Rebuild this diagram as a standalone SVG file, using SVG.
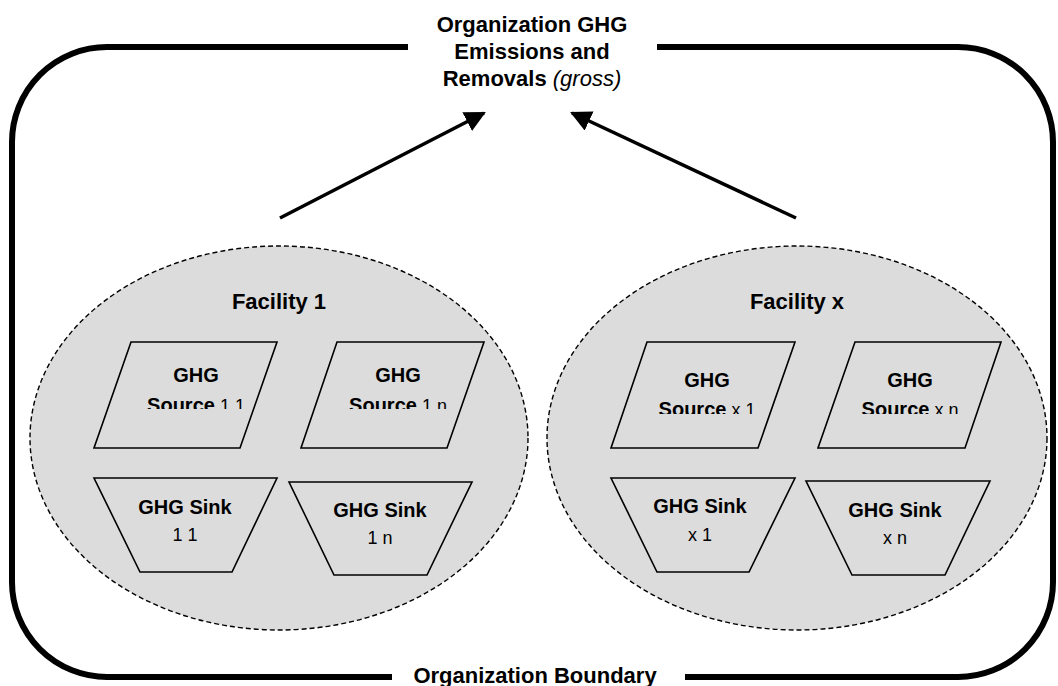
<svg xmlns="http://www.w3.org/2000/svg" width="1058" height="686" viewBox="0 0 1058 686">
<style>
text{font-family:"Liberation Sans",Arial,sans-serif;fill:#000}
.t{font-size:22px;font-weight:bold}
.n{font-size:20px;font-weight:bold}
.r{font-weight:normal;font-size:18px}
.fac{fill:#dcdcdc;stroke:#000;stroke-width:1.4;stroke-dasharray:5 3}
.shp{fill:#dcdcdc;stroke:#000;stroke-width:1.6}
.bnd{fill:none;stroke:#000;stroke-width:6}
.arr{stroke:#000;stroke-width:3.5;fill:none}
</style>
<defs>
<marker id="ah" viewBox="0 0 10 10" refX="9" refY="5" markerWidth="6" markerHeight="6" markerUnits="strokeWidth" orient="auto">
<path d="M0,0 L10,5 L0,10 Z" fill="#000"/>
</marker>
<clipPath id="c1"><rect x="0" y="0" width="540" height="409"/></clipPath>
<clipPath id="c2"><rect x="540" y="0" width="518" height="414"/></clipPath>
</defs>
<g id="boundary">
<path class="bnd" d="M408,47 H107 A95,95 0 0 0 12,142 V582 A95,95 0 0 0 107,677 H392"/>
<path class="bnd" d="M657,47 H958 A95,95 0 0 1 1053,142 V582 A95,95 0 0 1 958,677 H685"/>
<text class="t" x="535" y="683" text-anchor="middle">Organization Boundary</text>
</g>
<g id="title">
<text class="t" x="532" y="32" text-anchor="middle">Organization GHG</text>
<text class="t" x="532" y="59" text-anchor="middle">Emissions and</text>
<text class="t" x="532" y="86" text-anchor="middle">Removals <tspan font-weight="normal" font-style="italic">(gross)</tspan></text>
</g>
<g id="connectors">
<line class="arr" x1="280" y1="218" x2="484" y2="113" marker-end="url(#ah)"/>
<line class="arr" x1="796" y1="218" x2="572" y2="113" marker-end="url(#ah)"/>
</g>
<g id="facility1">
<ellipse class="fac" cx="279" cy="438" rx="249" ry="192"/>
<text class="t" x="279" y="309" text-anchor="middle">Facility 1</text>
</g>
<g id="source11">
<polygon class="shp" points="131,342 277,342 240,448 94,448"/>
<text class="n" x="196" y="382" text-anchor="middle">GHG</text>
<text class="n" x="196" y="412" text-anchor="middle" clip-path="url(#c1)">Source<tspan class="r"> 1 1</tspan></text>
</g>
<g id="source1n">
<polygon class="shp" points="337,342 484,342 447,448 301,448"/>
<text class="n" x="398" y="382" text-anchor="middle">GHG</text>
<text class="n" x="398" y="412" text-anchor="middle" clip-path="url(#c1)">Source<tspan class="r"> 1 n</tspan></text>
</g>
<g id="sink11">
<polygon class="shp" points="94,478 277,478 232,572 140,572"/>
<text class="n" x="185" y="514" text-anchor="middle">GHG Sink</text>
<text class="n r" x="185" y="541" text-anchor="middle">1 1</text>
</g>
<g id="sink1n">
<polygon class="shp" points="289,482 472,482 427,575 334,575"/>
<text class="n" x="380" y="517" text-anchor="middle">GHG Sink</text>
<text class="n r" x="380" y="544" text-anchor="middle">1 n</text>
</g>
<g id="facilityx">
<ellipse class="fac" cx="797" cy="438" rx="250" ry="192"/>
<text class="t" x="797" y="309" text-anchor="middle">Facility x</text>
</g>
<g id="sourcex1">
<polygon class="shp" points="647,342 795,342 758,448 611,448"/>
<text class="n" x="707" y="387" text-anchor="middle">GHG</text>
<text class="n" x="707" y="416" text-anchor="middle" clip-path="url(#c2)">Source<tspan class="r"> x 1</tspan></text>
</g>
<g id="sourcexn">
<polygon class="shp" points="855,342 1001,342 965,448 818,448"/>
<text class="n" x="910" y="387" text-anchor="middle">GHG</text>
<text class="n" x="910" y="416" text-anchor="middle" clip-path="url(#c2)">Source<tspan class="r"> x n</tspan></text>
</g>
<g id="sinkx1">
<polygon class="shp" points="611,478 795,478 749,572 657,572"/>
<text class="n" x="700" y="513" text-anchor="middle">GHG Sink</text>
<text class="n r" x="700" y="541" text-anchor="middle">x 1</text>
</g>
<g id="sinkxn">
<polygon class="shp" points="806,481 990,481 945,575 852,575"/>
<text class="n" x="895" y="517" text-anchor="middle">GHG Sink</text>
<text class="n r" x="895" y="544" text-anchor="middle">x n</text>
</g>
</svg>
